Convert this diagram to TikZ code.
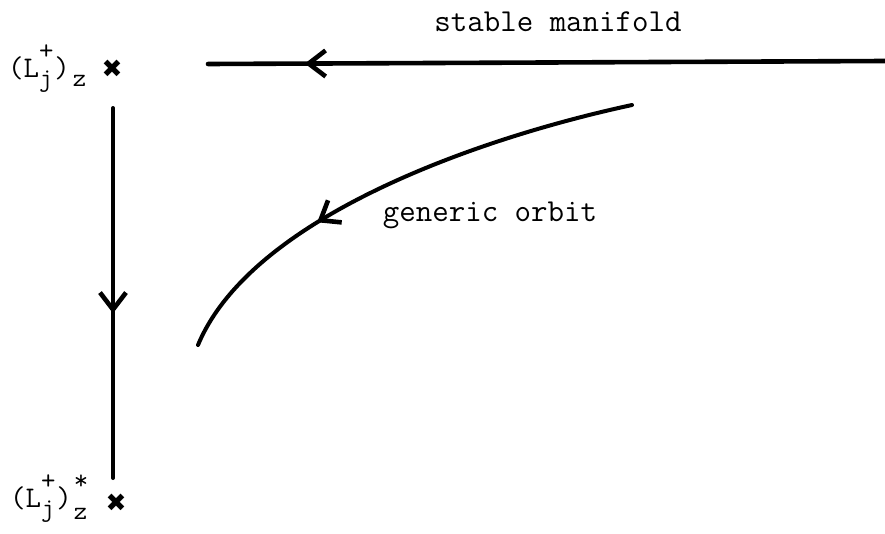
\documentclass[tikz,border=0pt]{standalone}
\usepackage{fontspec}
\newfontfamily\crossfont{DejaVu Sans}
\usetikzlibrary{arrows.meta,decorations.markings}
\newcommand{\supsub}[2]{\rlap{\raisebox{0.6em}{\fontsize{28}{28}\selectfont #1}}%
  \raisebox{-0.32em}{\fontsize{26}{26}\selectfont #2}\hspace{2pt}}

\begin{document}
\begin{tikzpicture}[x=1pt,y=-1pt]
  \path[use as bounding box] (0,0) rectangle (885,533);
  \tikzset{
    orbitLabel/.style={font=\fontsize{32}{36}\selectfont\ttfamily, inner sep=0pt},
    pointLabel/.style={font=\fontsize{30}{34}\selectfont\ttfamily, inner sep=0pt, anchor=base west},
    fixedPt/.style={font=\fontsize{25}{26}\selectfont\crossfont, inner sep=0pt},
    flowLine/.style={line width=4.6pt, line cap=round},
    midBarb/.style={postaction={decorate}, decoration={markings,
      mark=at position #1 with {\arrow[line width=4.6pt]{Straight Barb[length=17pt,width=26pt]}}}}
  }

  % fixed points
  \node[fixedPt] (Ltop) at (112,69) {✖};
  \node[fixedPt] (Lbot) at (116,503) {✖};
  \node[pointLabel] (LtopLbl) at (8,77)
    {(L\supsub{+}{j})\hspace{3pt}\raisebox{-0.3em}{\fontsize{26}{26}\selectfont z}};
  \node[pointLabel] (LbotLbl) at (10,507)
    {(L\supsub{+}{j})\hspace{2pt}\supsub{*}{\raisebox{-0.1em}{z}}};

  \coordinate (vTop) at (113,108);
  \coordinate (vBot) at (113,478);
  \coordinate (smEnd) at (885,61);
  \coordinate (smBeg) at (208,64);
  \coordinate (goBeg) at (632,105);
  \coordinate (goEnd) at (198,345);

  % stable manifold
  \draw[flowLine, midBarb=0.857] (smEnd) -- (smBeg);
  \node[orbitLabel] (smLbl) at (558,22) {stable manifold};

  % vertical connection
  \draw[flowLine, line width=4pt, midBarb=0.555] (vTop) -- (vBot);

  % generic orbit
  \draw[flowLine, line width=4pt, midBarb=0.66]
    (goBeg) .. controls (470,140) and (250,220) .. (goEnd);
  \node[orbitLabel] (goLbl) at (490,215) {generic orbit};
\end{tikzpicture}
\end{document}
